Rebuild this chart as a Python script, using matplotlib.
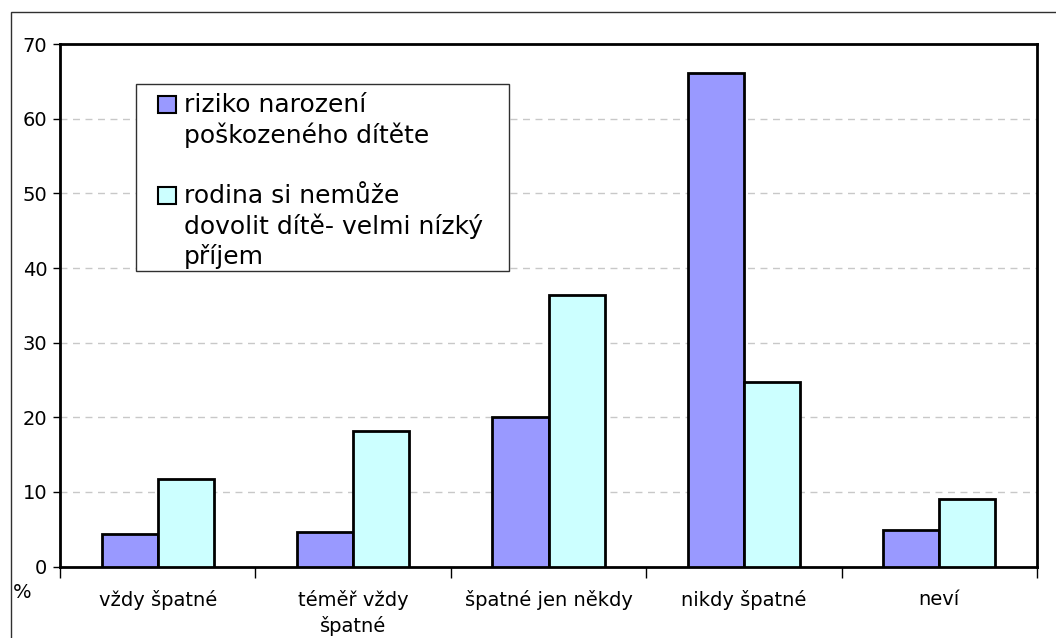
import matplotlib
matplotlib.use("Agg")
import matplotlib.pyplot as plt
from matplotlib.patches import Rectangle
import numpy as np

categories = ["vždy špatné", "téměř vždy\nšpatné", "špatné jen někdy", "nikdy špatné", "neví"]
series_names = ["riziko narození\npoškozeného dítěte",
                "rodina si nemůže\ndovolit dítě- velmi nízký\npříjem"]
riziko = [4.3, 4.6, 20.0, 66.2, 4.9]
rodina = [11.7, 18.2, 36.4, 24.7, 9.1]
yticks = [0, 10, 20, 30, 40, 50, 60, 70]
colors = ["#9999FF", "#CCFFFF"]

plt.rcParams['font.family'] = ['DejaVu Sans']
W, H = 1056, 638
fig = plt.figure(figsize=(W / 100, H / 100), dpi=100)
ax = fig.add_axes([60 / W, 1 - 566.5 / H, (1037 - 60) / W, (566.5 - 44.3) / H])

x = np.arange(len(categories))
bw = 0.2866
ax.bar(x - bw / 2, riziko, bw, color=colors[0], edgecolor="black", linewidth=2, label=series_names[0], zorder=3)
ax.bar(x + bw / 2, rodina, bw, color=colors[1], edgecolor="black", linewidth=2, label=series_names[1], zorder=3)

ax.set_xlim(-0.5, len(categories) - 0.5)
ax.set_ylim(0, 70)
ax.set_yticks(yticks)
ax.tick_params(axis="y", labelsize=14, length=5, width=1, pad=4)
ax.yaxis.grid(True, color="#C8C8C8", linestyle=(0, (5, 4)), linewidth=1)
ax.set_axisbelow(True)

# category boundary ticks and centered labels
ax.set_xticks(np.arange(len(categories) + 1) - 0.5)
ax.set_xticklabels([])
ax.tick_params(axis="x", which="major", length=8, width=1)
ax.set_xticks(x, minor=True)
ax.set_xticklabels(categories, minor=True, fontsize=14)
ax.tick_params(axis="x", which="minor", length=0, pad=17)
for lab in ax.get_xticklabels(minor=True):
    lab.set_linespacing(1.35)

for s in ax.spines.values():
    s.set_linewidth(2)
    s.set_color("black")

# legend box (drawn in figure pixel coordinates)
def fx(px):
    return px / W

def fy(py):
    return 1 - py / H

fig.patches.append(Rectangle((fx(136), fy(271)), fx(509) - fx(136), fy(84) - fy(271),
                             transform=fig.transFigure, facecolor="white",
                             edgecolor="#303030", linewidth=1, zorder=5))
entry_first_baseline = [112, 203]
line_step = 30.5
for name, col, b0 in zip(series_names, colors, entry_first_baseline):
    fig.patches.append(Rectangle((fx(158), fy(b0 + 0.5)), fx(176) - fx(158), fy(b0 - 16) - fy(b0 + 0.5),
                                 transform=fig.transFigure, facecolor=col,
                                 edgecolor="black", linewidth=1.5, zorder=6))
    for k, line in enumerate(name.split("\n")):
        fig.text(fx(184), fy(b0 + k * line_step), line, fontsize=18,
                 ha="left", va="baseline", zorder=7)

fig.text(fx(22), fy(593), "%", fontsize=14, ha="center", va="center")

fig.patches.append(Rectangle((fx(10.5), -0.2), 1.5, 0.2 + fy(11.7), transform=fig.transFigure,
                             fill=False, edgecolor="#303030", linewidth=1))

fig.savefig("out.png", dpi=100)
